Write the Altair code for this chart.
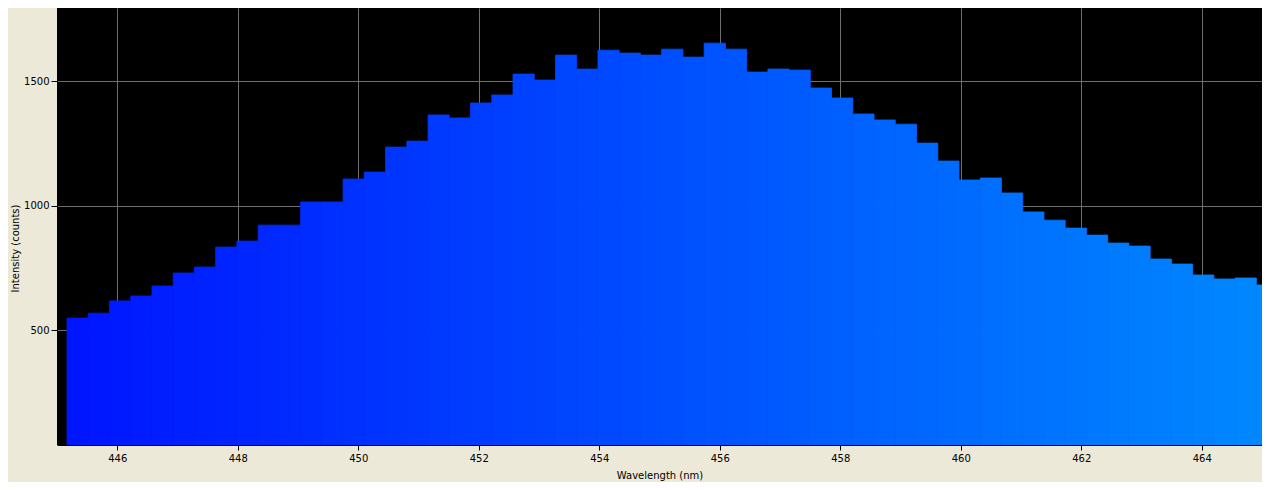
import altair as alt
import pandas as pd

# Spectrum bins
bin_start = 445.166      # nm, left edge of first bin
bin_width = 0.3525       # nm
intensity = [549, 569, 618, 638, 678, 730, 754, 834, 858, 922,
             922, 1015, 1015, 1107, 1135, 1235, 1259, 1364, 1352, 1412,
             1444, 1528, 1504, 1604, 1548, 1624, 1612, 1604, 1628, 1596,
             1652, 1628, 1536, 1548, 1544, 1472, 1432, 1368, 1344, 1327,
             1251, 1179, 1103, 1111, 1051, 975, 942, 910, 882, 850,
             838, 786, 766, 722, 706, 710, 682]
x_ticks = [446, 448, 450, 452, 454, 456, 458, 460, 462, 464]
y_ticks = [500, 1000, 1500]

starts = [round(bin_start + i * bin_width, 4) for i in range(len(intensity))]
df = pd.DataFrame({
    "start": starts,
    "end": [s + bin_width for s in starts],
    "mid": [s + bin_width / 2 for s in starts],
    "intensity": intensity,
})

color_scale = alt.Scale(domain=[445, 465], range=["#0014ff", "#0088ff"],
                        interpolate="rgb")

bars = alt.Chart(df).mark_rect(clip=True, strokeWidth=0.8).encode(
    x=alt.X("start:Q",
            scale=alt.Scale(domain=[445, 465], nice=False, zero=False),
            axis=alt.Axis(values=x_ticks, format="d", title="Wavelength (nm)",
                          tickSize=5, tickColor="#000000", labelPadding=3,
                          grid=True, gridColor="#6e6e6e", gridWidth=1,
                          domain=True, domainColor="#000000",
                          labelFont="DejaVu Sans", labelFontSize=10,
                          labelColor="#000000",
                          titleFont="DejaVu Sans", titleFontSize=10,
                          titleFontWeight="normal", titleColor="#000000",
                          titleBaseline="middle", titleY=30)),
    x2="end:Q",
    y=alt.Y("intensity:Q",
            scale=alt.Scale(domain=[40, 1793], nice=False, zero=False),
            axis=alt.Axis(values=y_ticks, format="d",
                          title="Intensity (counts)",
                          tickSize=6, tickColor="#000000", labelPadding=2,
                          grid=True, gridColor="#6e6e6e", gridWidth=1,
                          domain=False,
                          labelFont="DejaVu Sans", labelFontSize=10,
                          labelColor="#000000",
                          titleFont="DejaVu Sans", titleFontSize=10,
                          titleFontWeight="normal", titleColor="#000000",
                          titleAngle=270, titleAlign="center",
                          titleBaseline="middle", titleX=-42, titleY=240)),
    y2=alt.datum(0),
    color=alt.Color("mid:Q", scale=color_scale, legend=None),
    stroke=alt.Stroke("mid:Q", scale=color_scale, legend=None),
)

chart = bars.properties(
    width=1205,
    height=437,
    autosize=alt.AutoSizeParams(type="none"),
    padding={"left": 49, "top": 0, "right": 0, "bottom": 37},
    background="#ECE9D8",
).configure_view(
    fill="#000000",
    stroke=None,
)

chart.save("out.html", embed_options={"renderer": "svg", "actions": False})
